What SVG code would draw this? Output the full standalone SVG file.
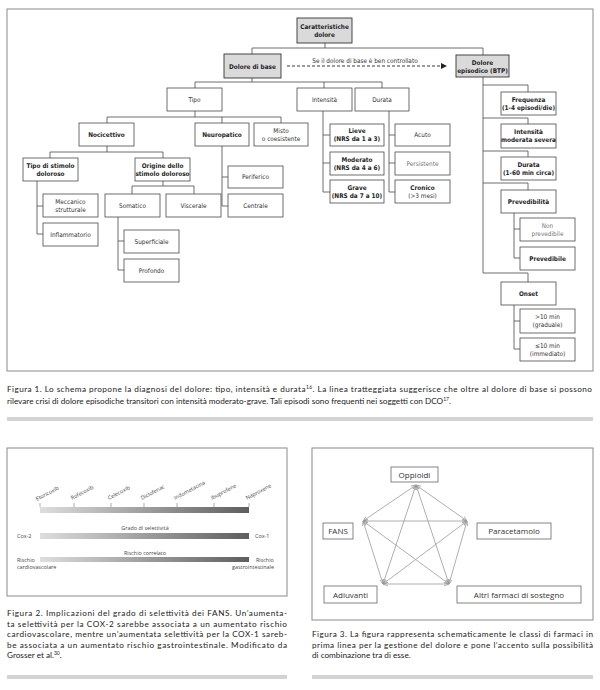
<svg xmlns="http://www.w3.org/2000/svg" width="600" height="690" viewBox="0 0 600 690">
<style>
.frame{fill:none;stroke:#8a8a8a;stroke-width:1}
.bx{fill:#fff;stroke:#4a4a4a;stroke-width:0.8}
.gx{fill:#dadada;stroke:#333;stroke-width:0.9}
.t{font-family:"Liberation Sans Narrow","DejaVu Sans Condensed","Liberation Sans",sans-serif;font-stretch:condensed;font-size:6.4px;fill:#333;text-anchor:middle}
.b{font-weight:bold;fill:#1e1e1e}
.lt{fill:#777}
.con{fill:none;stroke:#4a4a4a;stroke-width:0.8}
.cap{font-family:Lato,"Open Sans",sans-serif;font-size:8.2px;fill:#222}
.sup{font-size:5px}
.bar{fill:#d3d3d3}
.f2{font-family:"Open Sans","Noto Sans",sans-serif;font-size:5.4px;fill:#444}
.f3{font-family:"Open Sans","Noto Sans",sans-serif;font-size:8px;fill:#333;text-anchor:middle}
.b3{fill:#fff;stroke:#666;stroke-width:0.8}
.e3{stroke:#9a9a9a;stroke-width:0.8;fill:none;marker-start:url(#ah);marker-end:url(#ah)}
</style>
<defs>
<marker id="arr" viewBox="0 0 10 10" refX="10" refY="5" markerWidth="10" markerHeight="6" markerUnits="userSpaceOnUse" orient="auto"><path d="M0,0 L10,5 L0,10 z" fill="#222"/></marker>
<marker id="ah" viewBox="0 0 10 10" refX="10" refY="5" markerWidth="5" markerHeight="5" markerUnits="userSpaceOnUse" orient="auto-start-reverse"><path d="M0,1 L10,5 L0,9" fill="none" stroke="#9a9a9a" stroke-width="1.5"/></marker>
<linearGradient id="gr" x1="0" x2="1" y1="0" y2="0"><stop offset="0" stop-color="#dedede"/><stop offset="1" stop-color="#5e5e5e"/></linearGradient>
</defs>

<!-- Figure 1 -->
<rect class="frame" x="7" y="9" width="586" height="362"/>
<g id="connectors">
<path class="con" d="M325,43V48M252,48H483M252,48V54M483,48V55"/>
<path class="con" d="M252,78V82M195,82H382M195,82V88M324,82V88M382,82V88"/>
<path class="con" d="M195,111V117M107,117H281M107,117V123M222,117V123M281,117V123"/>
<path class="con" d="M107,146V152M50,152H163M50,152V158M163,152V158"/>
<path class="con" d="M37,181V234M37,206H43M37,234H43"/>
<path class="con" d="M163,181V186M132,186H194M132,186V194M194,186V194"/>
<path class="con" d="M118,217V270M118,241H124M118,270H124"/>
<path class="con" d="M222,146V206M222,177H228M222,206H228"/>
<path class="con" d="M323,111V192M323,135H330M323,163H330M323,192H330"/>
<path class="con" d="M389,111V192M389,135H395M389,163H395M389,192H395"/>
<path class="con" d="M483,77V273H528V282M483,85H528V92M483,118H528V124M483,151H528V157M483,183H528V190"/>
<path class="con" d="M514,213V258M514,229H520M514,258H520"/>
<path class="con" d="M514,305V349M514,321H520M514,349H520"/>
<path d="M287,66H447" stroke="#222" stroke-width="0.9" stroke-dasharray="3,2" fill="none" marker-end="url(#arr)"/>
<text class="t" x="365" y="62.5" font-size="6.8">Se il dolore di base è ben controllato</text>
</g>
<g id="n-caratteristiche"><rect class="gx" x="297" y="18" width="55" height="25"/><text class="t b" x="324.5" y="28.5">Caratteristiche</text><text class="t b" x="324.5" y="37">dolore</text></g>
<g id="n-base"><rect class="gx" x="224" y="54" width="57" height="24"/><text class="t b" x="252.5" y="68.5">Dolore di base</text></g>
<g id="n-btp"><rect class="gx" x="456" y="55" width="53" height="22"/><text class="t b" x="482.5" y="64.5">Dolore</text><text class="t b" x="482.5" y="72.5">episodico (BTP)</text></g>
<g id="n-tipo"><rect class="bx" x="167" y="88" width="55" height="23"/><text class="t" x="194.5" y="101.8">Tipo</text></g>
<g id="n-intensita"><rect class="bx" x="297" y="88" width="55" height="23"/><text class="t" x="324.5" y="101.8">Intensità</text></g>
<g id="n-durata"><rect class="bx" x="355" y="88" width="54" height="23"/><text class="t" x="382" y="101.8">Durata</text></g>
<g id="n-nocicettivo"><rect class="bx" x="79" y="123" width="55" height="23"/><text class="t b" x="106.5" y="136.8">Nocicettivo</text></g>
<g id="n-neuropatico"><rect class="bx" x="195" y="123" width="54" height="23"/><text class="t b" x="222" y="136.8">Neuropatico</text></g>
<g id="n-misto"><rect class="bx" x="254" y="123" width="54" height="23"/><text class="t" x="281" y="132.8">Misto</text><text class="t" x="281" y="140.8">o coesistente</text></g>
<g id="n-tipostimolo"><rect class="bx" x="23" y="158" width="55" height="23"/><text class="t b" x="50.5" y="167.8">Tipo di stimolo</text><text class="t b" x="50.5" y="175.8">doloroso</text></g>
<g id="n-origine"><rect class="bx" x="135" y="158" width="55" height="23"/><text class="t b" x="162.5" y="167.8">Origine dello</text><text class="t b" x="162.5" y="175.8">stimolo doloroso</text></g>
<g id="n-meccanico"><rect class="bx" x="43" y="194" width="55" height="23"/><text class="t" x="70.5" y="203.8">Meccanico</text><text class="t" x="70.5" y="211.8">strutturale</text></g>
<g id="n-inflammatorio"><rect class="bx" x="43" y="223" width="55" height="23"/><text class="t" x="70.5" y="236.8">Inflammatorio</text></g>
<g id="n-somatico"><rect class="bx" x="105" y="194" width="55" height="23"/><text class="t" x="132.5" y="207.8">Somatico</text></g>
<g id="n-viscerale"><rect class="bx" x="166" y="194" width="55" height="23"/><text class="t" x="193.5" y="207.8">Viscerale</text></g>
<g id="n-superficiale"><rect class="bx" x="124" y="230" width="55" height="23"/><text class="t" x="151.5" y="243.8">Superficiale</text></g>
<g id="n-profondo"><rect class="bx" x="124" y="259" width="55" height="23"/><text class="t" x="151.5" y="272.8">Profondo</text></g>
<g id="n-periferico"><rect class="bx" x="228" y="166" width="55" height="22"/><text class="t" x="255.5" y="179.3">Periferico</text></g>
<g id="n-centrale"><rect class="bx" x="228" y="194" width="55" height="23"/><text class="t" x="255.5" y="207.8">Centrale</text></g>
<g id="n-lieve"><rect class="bx" x="330" y="124" width="54" height="22"/><text class="t b" x="357" y="133.3">Lieve</text><text class="t b" x="357" y="141.3">(NRS da 1 a 3)</text></g>
<g id="n-moderato"><rect class="bx" x="330" y="152" width="54" height="23"/><text class="t b" x="357" y="161.8">Moderato</text><text class="t b" x="357" y="169.8">(NRS da 4 a 6)</text></g>
<g id="n-grave"><rect class="bx" x="330" y="180" width="54" height="23"/><text class="t b" x="357" y="189.8">Grave</text><text class="t b" x="357" y="197.8">(NRS da 7 a 10)</text></g>
<g id="n-acuto"><rect class="bx" x="395" y="124" width="55" height="22"/><text class="t" x="422.5" y="137.3">Acuto</text></g>
<g id="n-persistente"><rect class="bx" x="395" y="152" width="55" height="23"/><text class="t lt" x="422.5" y="165.8">Persistente</text></g>
<g id="n-cronico"><rect class="bx" x="395" y="180" width="55" height="23"/><text class="t b" x="422.5" y="189.8">Cronico</text><text class="t" x="422.5" y="197.8">(&gt;3 mesi)</text></g>
<g id="n-frequenza"><rect class="bx" x="501" y="92" width="55" height="23"/><text class="t b" x="528.5" y="101.8">Frequenza</text><text class="t b" x="528.5" y="109.8">(1-4 episodi/die)</text></g>
<g id="n-intmod"><rect class="bx" x="501" y="124" width="55" height="24"/><text class="t b" x="528.5" y="134.3">Intensità</text><text class="t b" x="528.5" y="142.3">moderata severa</text></g>
<g id="n-durata60"><rect class="bx" x="501" y="157" width="55" height="23"/><text class="t b" x="528.5" y="166.8">Durata</text><text class="t b" x="528.5" y="174.8">(1-60 min circa)</text></g>
<g id="n-prevedibilita"><rect class="bx" x="501" y="190" width="55" height="23"/><text class="t b" x="528.5" y="203.8">Prevedibilità</text></g>
<g id="n-nonprev"><rect class="bx" x="520" y="218" width="55" height="23"/><text class="t lt" x="547.5" y="227.8">Non</text><text class="t lt" x="547.5" y="235.8">prevedibile</text></g>
<g id="n-prev"><rect class="bx" x="520" y="247" width="55" height="23"/><text class="t b" x="547.5" y="260.8">Prevedibile</text></g>
<g id="n-onset"><rect class="bx" x="501" y="282" width="55" height="23"/><text class="t b" x="528.5" y="295.8">Onset</text></g>
<g id="n-gt10"><rect class="bx" x="520" y="309" width="55" height="24"/><text class="t" x="547.5" y="319.3">&gt;10 min</text><text class="t" x="547.5" y="327.3">(graduale)</text></g>
<g id="n-le10"><rect class="bx" x="520" y="338" width="55" height="23"/><text class="t" x="547.5" y="347.8">≤10 min</text><text class="t" x="547.5" y="355.8">(immediato)</text></g>

<text class="cap" x="7" y="392" textLength="585">Figura 1. Lo schema propone la diagnosi del dolore: tipo, intensità e durata<tspan class="sup" dy="-3">16</tspan><tspan dy="3">. La linea tratteggiata suggerisce che oltre al dolore di base si possono</tspan></text>
<text class="cap" x="7" y="403.5">rilevare crisi di dolore episodiche transitori con intensità moderato-grave. Tali episodi sono frequenti nei soggetti con DCO<tspan class="sup" dy="-3">17</tspan><tspan dy="3">.</tspan></text>
<rect class="bar" x="7" y="417" width="586" height="4"/>

<!-- Figure 2 -->
<g id="fig2">
<rect class="frame" x="7" y="448" width="280" height="148"/>
<rect x="40" y="507" width="209" height="6" fill="url(#gr)"/>
<path d="M40,503V507M74,503V507M111,503V507M144,503V507M177,503V507M214,503V507M249,503V507" stroke="#777" stroke-width="0.6"/>
<text class="f2" transform="translate(37,501) rotate(-28)">Etoricoxib</text>
<text class="f2" transform="translate(72,500) rotate(-28)">Rofecoxib</text>
<text class="f2" transform="translate(109,500) rotate(-28)">Celecoxib</text>
<text class="f2" transform="translate(142,500) rotate(-28)">Diclofenac</text>
<text class="f2" transform="translate(175,500) rotate(-28)">Indometacina</text>
<text class="f2" transform="translate(212,500) rotate(-28)">Ibuprofene</text>
<text class="f2" transform="translate(247,500) rotate(-28)">Naproxene</text>
<text class="f2" x="145" y="530" text-anchor="middle" font-size="5.8">Grado di selettività</text>
<rect x="40" y="533" width="209" height="6" fill="url(#gr)"/>
<text class="f2" x="17" y="538">Cox-2</text>
<text class="f2" x="255" y="538">Cox-1</text>
<text class="f2" x="145" y="555" text-anchor="middle" font-size="5.8">Rischio correlato</text>
<rect x="40" y="557" width="209" height="5" fill="url(#gr)"/>
<text class="f2" x="17" y="561.5">Rischio</text>
<text class="f2" x="17" y="569">cardiovascolare</text>
<text class="f2" x="256" y="561.5">Rischio</text>
<text class="f2" x="274" y="569" text-anchor="end">gastrointestinale</text>
</g>
<text class="cap" x="7" y="616" textLength="280">Figura 2. Implicazioni del grado di selettività dei FANS. Un’aumenta-</text>
<text class="cap" x="7" y="626.5" textLength="280">ta selettività per la COX-2 sarebbe associata a un aumentato rischio</text>
<text class="cap" x="7" y="637" textLength="280">cardiovascolare, mentre un’aumentata selettività per la COX-1 sareb-</text>
<text class="cap" x="7" y="647.5" textLength="280">be associata a un aumentato rischio gastrointestinale. Modificato da</text>
<text class="cap" x="7" y="658">Grosser et al.<tspan class="sup" dy="-3">30</tspan><tspan dy="3">.</tspan></text>
<rect class="bar" x="7" y="675" width="280" height="4"/>

<!-- Figure 3 -->
<rect class="frame" x="312" y="448" width="281" height="172"/>
<g id="connectors3">
<path class="e3" d="M416,485L363,521"/>
<path class="e3" d="M416,485L467,521"/>
<path class="e3" d="M416,485L383,584"/>
<path class="e3" d="M416,485L449,584"/>
<path class="e3" d="M363,521L467,521"/>
<path class="e3" d="M363,521L383,584"/>
<path class="e3" d="M363,521L449,584"/>
<path class="e3" d="M467,521L383,584"/>
<path class="e3" d="M467,521L449,584"/>
<path class="e3" d="M383,584L449,584"/>
</g>
<g id="n-oppioidi"><rect class="b3" x="391" y="467" width="47" height="15"/><text class="f3" x="414.5" y="477.5">Oppioidi</text></g>
<g id="n-fans"><rect class="b3" x="323" y="523" width="30" height="16"/><text class="f3" x="338" y="534">FANS</text></g>
<g id="n-paracetamolo"><rect class="b3" x="477" y="523" width="74" height="16"/><text class="f3" x="514" y="534">Paracetamolo</text></g>
<g id="n-adiuvanti"><rect class="b3" x="324" y="586" width="53" height="17"/><text class="f3" x="350.5" y="597.5">Adiuvanti</text></g>
<g id="n-altri"><rect class="b3" x="457" y="586" width="124" height="17"/><text class="f3" x="519" y="597.5">Altri farmaci di sostegno</text></g>
<text class="cap" x="312" y="637" textLength="281">Figura 3. La figura rappresenta schematicamente le classi di farmaci in</text>
<text class="cap" x="312" y="647.5" textLength="281">prima linea per la gestione del dolore e pone l’accento sulla possibilità</text>
<text class="cap" x="312" y="658">di combinazione tra di esse.</text>
<rect class="bar" x="312" y="675" width="281" height="4"/>
</svg>
